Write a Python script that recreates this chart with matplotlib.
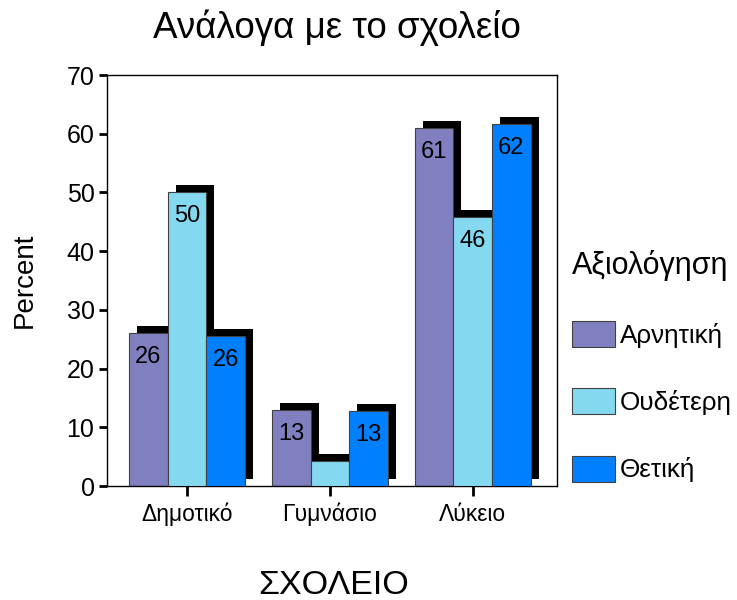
import numpy as np
from matplotlib import pyplot as plt
from matplotlib.patches import Patch

plt.rcParams['font.family'] = ['Liberation Sans', 'DejaVu Sans']

schools = ["Δημοτικό", "Γυμνάσιο", "Λύκειο"]
ratings = ["Αρνητική", "Ουδέτερη", "Θετική"]
negative = [26.1, 12.9, 61.0]
neutral = [50.0, 4.2, 45.8]
positive = [25.6, 12.7, 61.7]
colors = ["#8080C0", "#84D9F1", "#0080FF"]

series = [negative, neutral, positive]

fig = plt.figure(figsize=(7.37, 6.0), dpi=100)
ax = fig.add_axes([107/737, 1-486/600, 450/737, 411/600])

x = np.arange(len(schools))
w = 0.27
dx = 0.056
dy = 1.2

# black drop shadows first, then the bars on top
for i, vals in enumerate(series):
    pos = x + (i - 1) * w
    ax.bar(pos + dx, vals, w, bottom=dy, color="black", zorder=1, linewidth=0)
for i, vals in enumerate(series):
    pos = x + (i - 1) * w
    ax.bar(pos, vals, w, color=colors[i], edgecolor="#404040", linewidth=0.8,
           zorder=2 + i)
    for p, v in zip(pos, vals):
        if v > 8:
            ax.text(p, v - 2.2, "%d" % round(v), ha="center", va="top",
                    fontsize=17, zorder=10)

ax.set_xlim(-0.56, 2.59)
ax.set_ylim(0, 70)
ax.set_yticks(range(0, 71, 10))
ax.set_xticks(x)
ax.set_xticklabels(schools, fontsize=16.5)
ax.tick_params(axis="y", labelsize=18, length=6, width=2, pad=3)
ax.tick_params(axis="x", length=7, width=2, pad=5)
for s in ax.spines.values():
    s.set_linewidth(1)

ax.set_ylabel("Percent", fontsize=20, labelpad=21)
fig.text(334/737, 1-585/600, "ΣΧΟΛΕΙΟ", ha="center", va="center", fontsize=24.5)
fig.text(337/737, 1-28/600, "Ανάλογα με το σχολείο", ha="center", va="center",
         fontsize=26.5)

handles = [Patch(facecolor=c, edgecolor="#404040", linewidth=0.8) for c in colors]
leg = fig.legend(handles, ratings, loc="center left",
                 bbox_to_anchor=(551/737, 1-366/600), frameon=False,
                 title="Αξιολόγηση", fontsize=18.8, title_fontsize=22,
                 handlelength=1.65, handleheight=1.15, labelspacing=1.55,
                 handletextpad=0.2, borderpad=0.3)
leg._legend_box.align = "left"

fig.savefig("out.png", dpi=100)
